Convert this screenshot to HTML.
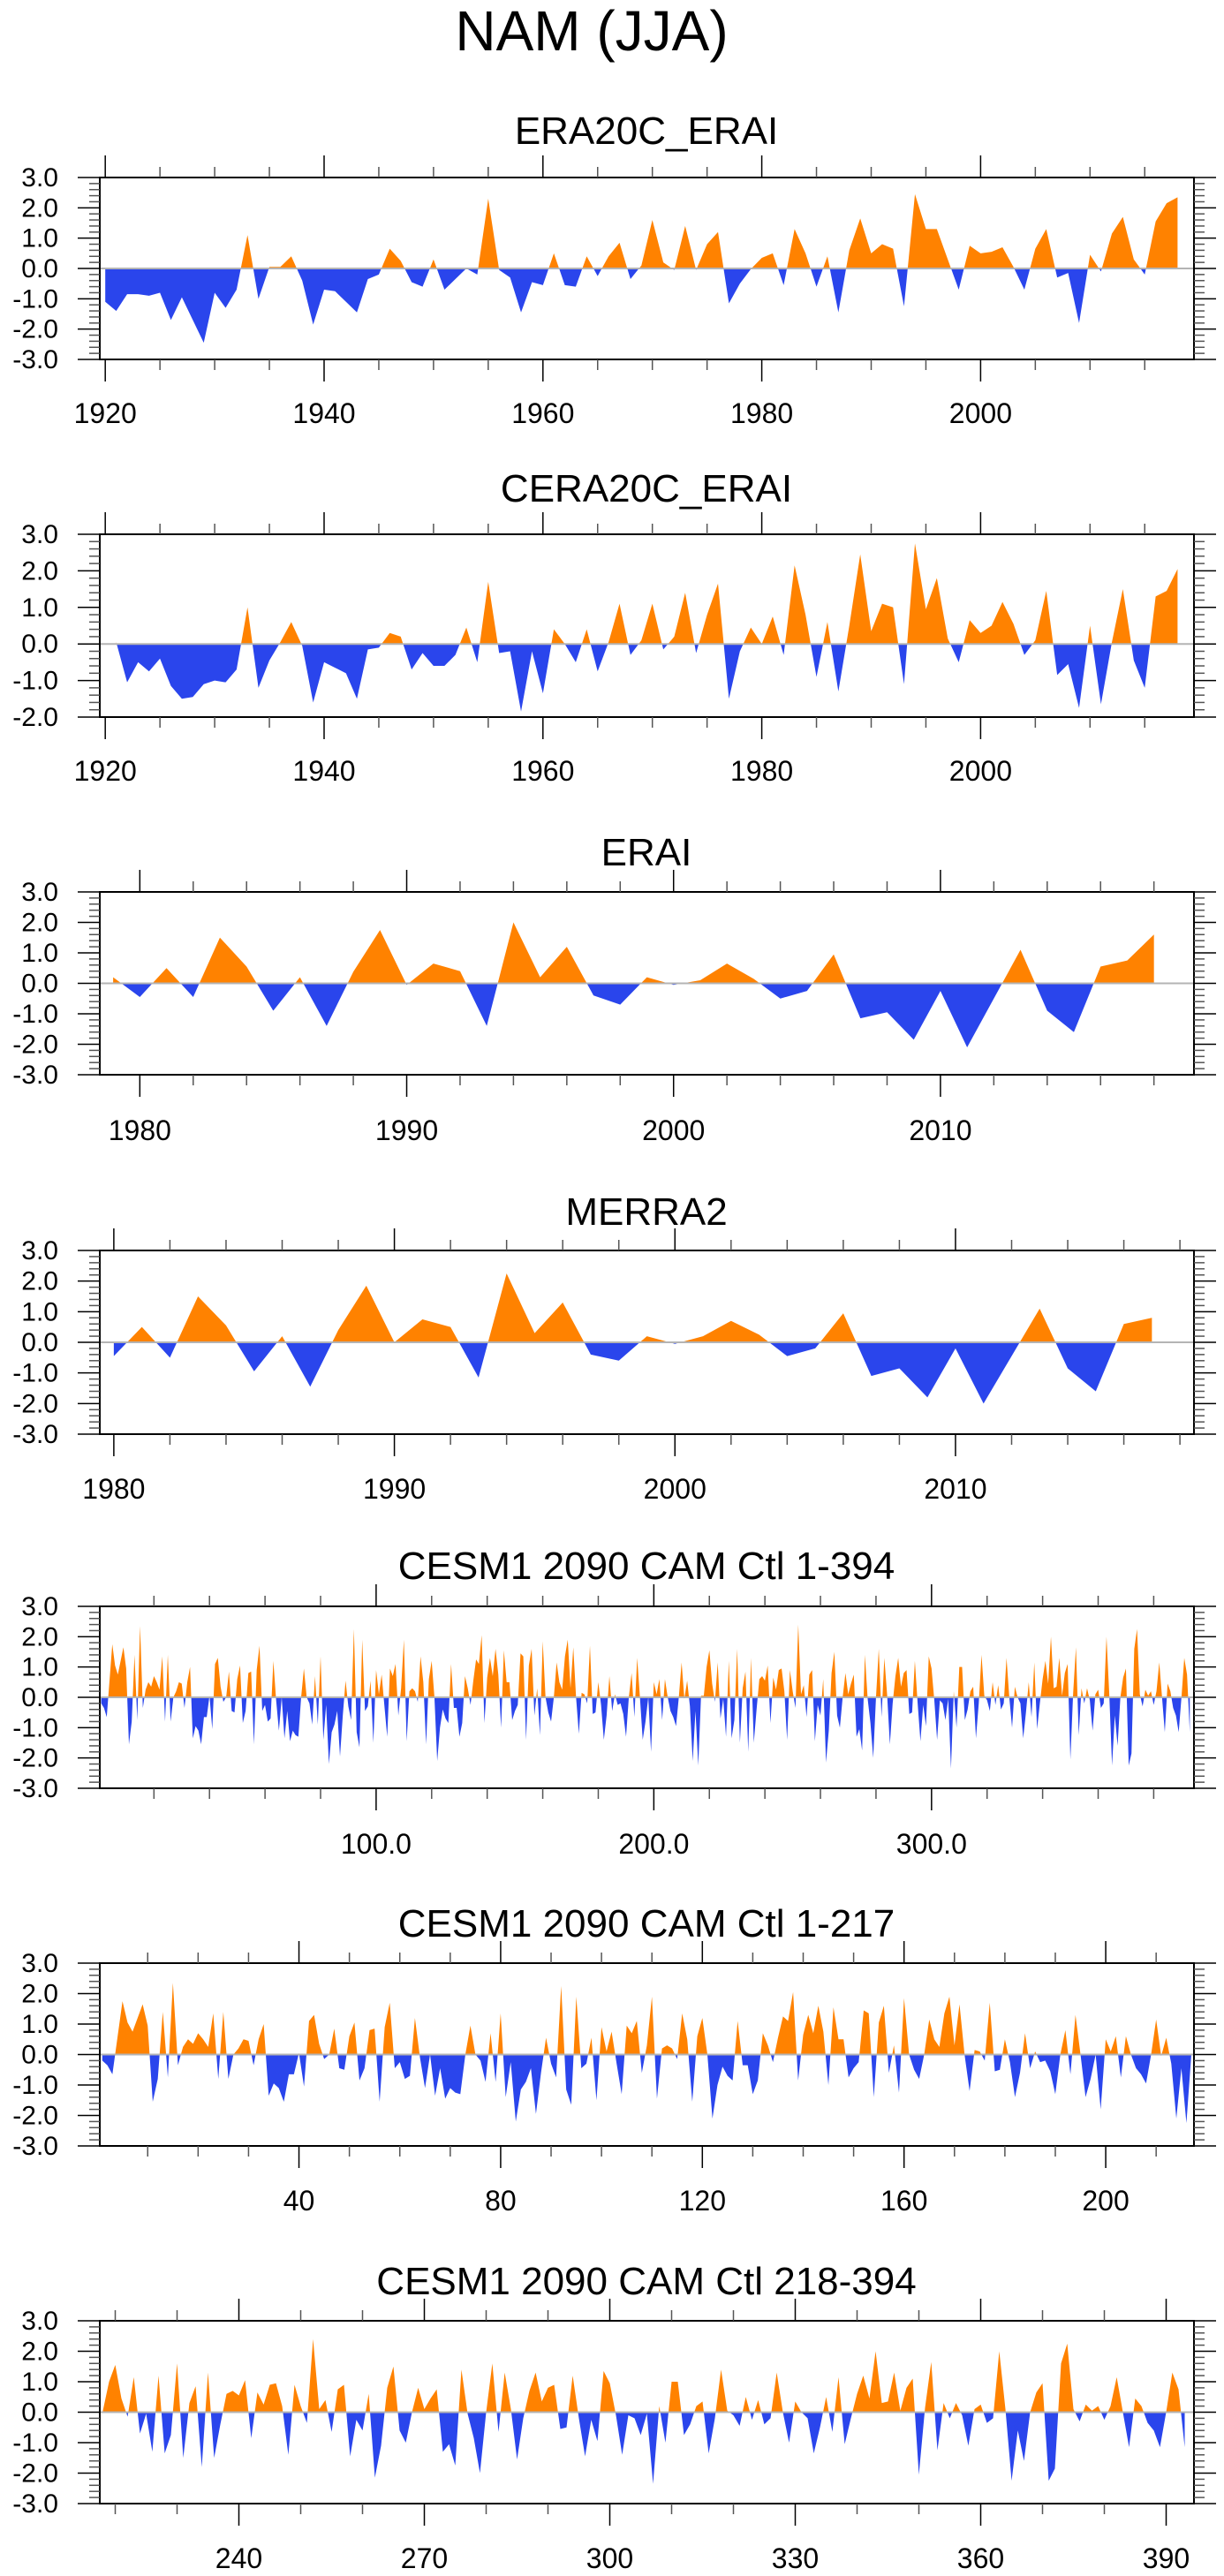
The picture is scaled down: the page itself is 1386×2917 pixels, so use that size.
<!DOCTYPE html>
<html><head><meta charset="utf-8">
<style>
html,body{margin:0;padding:0;background:#fff;}
svg{display:block;font-family:"Liberation Sans",sans-serif;}
</style></head>
<body>
<svg id="fig" width="1386" height="2917" viewBox="0 0 1386 2917" xmlns="http://www.w3.org/2000/svg">
<text x="670" y="57" font-size="64" text-anchor="middle">NAM (JJA)</text>
</svg>
<script>
// ---- data ----
const era20cYears0 = 1920;
const era20cValues = [-1.1,-1.4,-0.85,-0.85,-0.9,-0.8,-1.7,-0.95,-1.7,-2.45,-0.8,-1.3,-0.7,1.1,-1.0,0.05,0.05,0.4,-0.4,-1.85,-0.7,-0.75,-1.1,-1.45,-0.35,-0.2,0.65,0.25,-0.45,-0.6,0.3,-0.7,-0.35,0.0,-0.2,2.3,-0.05,-0.3,-1.45,-0.45,-0.55,0.5,-0.55,-0.6,0.4,-0.25,0.4,0.85,-0.35,0.1,1.6,0.2,-0.05,1.4,-0.05,0.8,1.2,-1.15,-0.5,-0.02,0.35,0.5,-0.55,1.3,0.5,-0.6,0.4,-1.45,0.6,1.65,0.5,0.8,0.65,-1.25,2.45,1.3,1.3,0.3,-0.7,0.75,0.5,0.55,0.7,0.05,-0.7,0.65,1.3,-0.3,-0.15,-1.8,0.45,-0.1,1.15,1.7,0.3,-0.2,1.55,2.15,2.35];
const cera20cYears0 = 1921;
const cera20cValues = [0.05,-1.05,-0.5,-0.75,-0.4,-1.15,-1.5,-1.45,-1.1,-1.0,-1.05,-0.7,1.0,-1.2,-0.45,0.05,0.6,-0.05,-1.6,-0.5,-0.65,-0.8,-1.5,-0.15,-0.1,0.3,0.2,-0.7,-0.25,-0.6,-0.6,-0.3,0.45,-0.5,1.7,-0.25,-0.2,-1.85,-0.2,-1.35,0.4,0.0,-0.5,0.4,-0.75,0.05,1.1,-0.3,0.1,1.1,-0.15,0.2,1.4,-0.25,0.8,1.65,-1.5,-0.2,0.45,0.0,0.75,-0.3,2.15,0.8,-0.9,0.6,-1.3,0.5,2.45,0.35,1.1,1.0,-1.1,2.75,0.95,1.8,0.15,-0.5,0.65,0.3,0.5,1.15,0.55,-0.3,0.1,1.45,-0.85,-0.55,-1.75,0.5,-1.65,0.05,1.5,-0.45,-1.2,1.3,1.45,2.05];
const eraiYears0 = 1979;
const eraiValues = [0.2,-0.45,0.5,-0.45,1.5,0.55,-0.9,0.2,-1.4,0.38,1.75,-0.05,0.65,0.4,-1.4,2.0,0.2,1.2,-0.4,-0.7,0.2,-0.05,0.1,0.65,0.15,-0.5,-0.25,0.95,-1.15,-0.95,-1.85,-0.25,-2.1,-0.5,1.1,-0.9,-1.6,0.55,0.75,1.6];
const merraYears0 = 1980;
const merraValues = [-0.45,0.5,-0.5,1.5,0.55,-0.95,0.2,-1.45,0.4,1.85,0.0,0.75,0.5,-1.15,2.25,0.3,1.3,-0.4,-0.6,0.2,-0.05,0.2,0.7,0.25,-0.45,-0.2,0.95,-1.1,-0.85,-1.8,-0.2,-2.0,-0.45,1.1,-0.85,-1.6,0.6,0.8];
const cesmValues = [
-0.2,-0.35,-0.65,0.55,1.75,1.05,0.75,1.2,1.65,0.95,-1.55,-0.8,1.4,-0.75,2.35,-0.35,0.25,0.5,0.35,0.7,
0.5,0.25,1.35,-0.8,1.4,-0.8,0.0,0.2,0.5,0.45,-0.35,0.5,1.0,-1.35,-0.95,-1.1,-1.55,-0.65,-0.65,0.05,
-1.05,1.1,1.3,0.35,-0.15,0.0,0.85,-0.45,-0.5,0.6,1.05,-0.85,-0.45,0.8,0.85,-1.55,0.9,1.7,-0.45,-0.25,
-0.8,-0.7,1.2,-0.1,-1.1,0.0,-1.35,-0.45,-1.45,-1.1,-1.25,-1.3,0.0,0.95,0.0,-0.2,-0.9,0.7,-0.9,1.35,
-1.4,-0.25,-2.2,-1.15,-0.9,-0.45,-1.95,-0.6,0.55,-0.3,-0.75,2.25,-1.15,-1.65,1.9,-0.45,-0.3,0.55,-1.5,0.9,
0.1,0.75,-0.3,-1.3,0.95,0.7,1.1,-0.6,0.3,1.9,-1.45,0.2,0.3,0.2,-0.15,1.35,0.5,-1.55,0.6,1.2,
0.0,-2.1,-1.0,-0.4,-0.7,-0.85,1.1,-0.35,-0.35,-1.3,-0.85,0.7,0.3,-0.25,0.55,1.25,1.1,2.05,-0.85,0.65,
1.3,0.7,1.6,0.75,-1.0,1.55,0.5,0.5,-0.75,-0.45,-0.25,1.45,1.35,-1.4,1.05,1.6,-0.6,0.3,-1.25,1.85,
0.0,-0.5,-0.8,0.0,1.15,0.5,0.25,1.35,1.9,0.3,1.65,0.0,-1.2,0.15,0.1,-0.2,1.7,-0.55,-0.5,0.5,
-0.25,-1.4,-0.6,0.7,-0.45,0.1,-0.25,-0.2,-0.55,-1.3,0.0,0.8,-0.65,1.3,0.0,-1.4,-0.8,0.0,-1.8,0.5,
0.1,0.6,-0.75,0.6,0.0,-0.45,-0.65,-0.95,0.0,1.15,-0.05,0.55,-0.3,-2.1,-0.45,-2.25,0.05,
0.05,1.0,1.55,0.45,-0.15,1.15,-0.7,-0.05,-1.3,1.2,-1.35,-0.75,1.6,-1.5,0.3,0.85,-1.8,1.3,-1.5,-0.4,
0.6,0.7,0.55,1.05,-0.85,0.65,0.25,0.9,0.95,0.2,-1.4,0.9,0.2,-0.35,2.4,0.1,0.4,-0.65,0.75,0.9,
-1.45,-0.25,-0.6,0.6,-2.15,-1.1,0.8,1.5,-0.6,-1.0,0.0,0.8,0.1,0.45,0.75,-1.3,-1.05,-1.75,1.4,-0.05,
-0.85,-2.0,0.0,1.6,-0.65,1.3,0.1,-1.55,-0.2,0.7,1.3,0.35,0.8,0.9,-0.55,-0.5,1.2,-0.2,-1.45,-0.25,
-0.95,1.35,0.95,-0.1,-1.4,-0.1,-0.2,-0.75,-0.05,-2.35,0.2,-1.0,1.0,1.0,-0.75,-0.4,0.2,0.35,-1.35,-0.2,
1.4,0.05,-0.1,-0.45,0.5,-0.25,0.4,-0.4,-0.2,1.3,0.0,-1.0,0.35,0.0,-0.2,-1.35,-0.5,0.5,-0.65,1.15,
-1.05,-0.2,0.6,1.2,0.45,2.0,0.3,0.35,1.3,0.05,0.8,1.1,-2.05,0.15,1.65,-1.25,0.3,-0.2,0.3,-0.1,
-1.1,0.1,0.25,-0.35,-0.2,2.0,0.1,-2.25,-0.6,-1.6,0.0,0.65,0.95,-2.25,-1.85,1.6,2.25,0.1,-0.3,0.25,
0.05,0.2,-0.25,0.2,1.15,0.0,-1.15,0.45,0.2,-0.35,-0.6,-1.15,0.0,1.3,0.75,-1.15];
const yTicks3 = [3,2,1,0,-1,-2,-3];
const yTicks2 = [3,2,1,0,-1,-2];
const yearTicks20 = [1920,1940,1960,1980,2000];
const yearTicks10 = [1980,1990,2000,2010];
const cesmTicksAll = [100,200,300];
const cesmTicksA = [40,80,120,160,200];
const cesmTicksB = [240,270,300,330,360,390];

const NS = "http://www.w3.org/2000/svg";
const svg = document.getElementById('fig');
const ORANGE = "#ff8200", BLUE = "#2a45ec";
const L = 113, R = 1352;

function mk(tag, attrs, parent){
  const e = document.createElementNS(NS, tag);
  for (const k in attrs) e.setAttribute(k, attrs[k]);
  (parent||svg).appendChild(e);
  return e;
}

function panel(cfg){
  const g = mk('g', {});
  
  
  const xs = v => L + (v - cfg.x0) / (cfg.x1 - cfg.x0) * (R - L);
  const ys = v => cfg.bot - (v - cfg.ymin) / (cfg.ymax - cfg.ymin) * (cfg.bot - cfg.top);
  // title
  const t = mk('text', {x: 732, y: cfg.titleY, 'font-size': 44, 'text-anchor': 'middle'}, g);
  t.textContent = cfg.title;
  
  
  // data points with zero crossings
  const vals = cfg.values;
  const pts = [];
  for (let i = 0; i < vals.length; i++){
    const xv = cfg.start + i, v = vals[i];
    if (i > 0){
      const pv = vals[i-1];
      if ((pv > 0 && v < 0) || (pv < 0 && v > 0)){
        const f = pv / (pv - v);
        pts.push([xv - 1 + f, 0]);
      }
    }
    pts.push([xv, v]);
  }
  const first = pts[0][0], last = pts[pts.length-1][0];
  function area(sign){
    let d = 'M' + xs(first).toFixed(2) + ',' + ys(0).toFixed(2);
    for (const p of pts){
      const v = sign > 0 ? Math.max(p[1], 0) : Math.min(p[1], 0);
      d += 'L' + xs(p[0]).toFixed(2) + ',' + ys(v).toFixed(2);
    }
    d += 'L' + xs(last).toFixed(2) + ',' + ys(0).toFixed(2) + 'Z';
    return d;
  }
  const pos = mk('path', {d: area(1), fill: ORANGE}, g);
  
  
  const neg = mk('path', {d: area(-1), fill: BLUE}, g);
  
  
  const zl = mk('line', {x1: L, x2: R, y1: ys(0), y2: ys(0), stroke: '#b4b4b4', 'stroke-width': 2}, g);
  
  
  // frame
  const fr = mk('rect', {x: L, y: cfg.top, width: R - L, height: cfg.bot - cfg.top, fill: 'none', stroke: '#000', 'stroke-width': 2}, g);
  
  
  // y ticks
  const ticks = cfg.ymin === -2 ? yTicks2 : yTicks3;
  for (let v = cfg.ymin; v <= cfg.ymax + 1e-6; v += 0.2){
    const vv = Math.round(v * 10) / 10;
    const major = Math.abs(vv - Math.round(vv)) < 1e-6;
    const len = major ? 25 : 12;
    const y = ys(vv);
    mk('line', {x1: L - len, x2: L, y1: y, y2: y, stroke: major ? '#000' : '#555', 'stroke-width': 1.5}, g);
    mk('line', {x1: R, x2: R + len, y1: y, y2: y, stroke: major ? '#000' : '#555', 'stroke-width': 1.5}, g);
  }
  for (const v of ticks){
    const tl = mk('text', {x: 66, y: ys(v) + 10, 'font-size': 30, 'text-anchor': 'end'}, g);
    tl.textContent = v.toFixed(1);
    
    
  }
  // x ticks
  const mstart = Math.ceil(cfg.x0 / cfg.minor) * cfg.minor;
  for (let v = mstart; v <= cfg.x1; v += cfg.minor){
    const major = cfg.xticks.indexOf(v) >= 0;
    const len = major ? 25 : 12;
    const x = xs(v);
    mk('line', {x1: x, x2: x, y1: cfg.top - len, y2: cfg.top, stroke: major ? '#000' : '#555', 'stroke-width': 1.5}, g);
    mk('line', {x1: x, x2: x, y1: cfg.bot, y2: cfg.bot + len, stroke: major ? '#000' : '#555', 'stroke-width': 1.5}, g);
  }
  for (const v of cfg.xticks){
    const tl = mk('text', {x: xs(v), y: cfg.labY + 11, 'font-size': 32, 'text-anchor': 'middle'}, g);
    tl.textContent = cfg.fmt ? v.toFixed(1) : String(v);
    
    
  }
}

panel({name:'era20c-erai', title:'ERA20C_ERAI', titleY:163, top:201, bot:407, ymin:-3, ymax:3, x0:1919.5, x1:2019.5, values:era20cValues, start:era20cYears0, xticks:yearTicks20, minor:5, labY:468});
panel({name:'cera20c-erai', title:'CERA20C_ERAI', titleY:568, top:605, bot:812, ymin:-2, ymax:3, x0:1919.5, x1:2019.5, values:cera20cValues, start:cera20cYears0, xticks:yearTicks20, minor:5, labY:873});
panel({name:'erai', title:'ERAI', titleY:980, top:1010, bot:1217, ymin:-3, ymax:3, x0:1978.5, x1:2019.5, values:eraiValues, start:eraiYears0, xticks:yearTicks10, minor:2, labY:1280});
panel({name:'merra2', title:'MERRA2', titleY:1387, top:1416, bot:1624, ymin:-3, ymax:3, x0:1979.5, x1:2018.5, values:merraValues, start:merraYears0, xticks:yearTicks10, minor:2, labY:1686});
panel({name:'cesm-all', title:'CESM1 2090 CAM Ctl 1-394', titleY:1788, top:1819, bot:2025, ymin:-3, ymax:3, x0:0.5, x1:394.5, values:cesmValues, start:1, xticks:cesmTicksAll, minor:20, labY:2088, fmt:true});
panel({name:'cesm-first', title:'CESM1 2090 CAM Ctl 1-217', titleY:2193, top:2223, bot:2430, ymin:-3, ymax:3, x0:0.5, x1:217.5, values:cesmValues.slice(0,217), start:1, xticks:cesmTicksA, minor:10, labY:2492});
panel({name:'cesm-second', title:'CESM1 2090 CAM Ctl 218-394', titleY:2598, top:2628, bot:2835, ymin:-3, ymax:3, x0:217.5, x1:394.5, values:cesmValues.slice(217), start:218, xticks:cesmTicksB, minor:10, labY:2897});
</script>
</body></html>
